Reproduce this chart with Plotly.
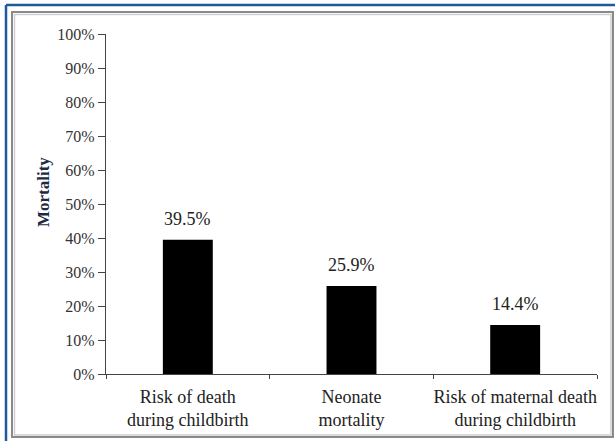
import plotly.graph_objects as go

# Data
categories = ["Risk of death<br>during childbirth", "Neonate<br>mortality",
              "Risk of maternal death<br>during childbirth"]
mortality = [39.5, 25.9, 14.4]
tick_values = [0, 10, 20, 30, 40, 50, 60, 70, 80, 90, 100]
tick_labels = [f"{v}%" for v in tick_values]
y_title = "Mortality"

W, H = 615, 441
L, R, T, B = 106, 18, 34, 67
PW, PH = W - L - R, H - T - B


def px(x):
    return (x - L) / PW


def py(y):
    return (H - B - y) / PH


SERIF = "Liberation Serif, Times New Roman, serif"

fig = go.Figure()
fig.add_trace(go.Bar(
    x=categories, y=mortality, width=0.305,
    marker=dict(color="black", line=dict(color="black", width=0)),
    hoverinfo="skip",
))

# value labels above bars
for c, v in zip(categories, mortality):
    fig.add_annotation(x=c, y=v, text=f"{v}%", showarrow=False,
                       yanchor="bottom", yshift=9,
                       font=dict(family=SERIF, size=18, color="#222"))

# vertical axis title
fig.add_annotation(xref="paper", yref="paper", x=px(43), y=py(192),
                   text=f"<b>{y_title}</b>", textangle=-90, showarrow=False,
                   xanchor="center", yanchor="middle",
                   font=dict(family=SERIF, size=17, color="#1c2a44"))

shapes = [
    # outer frame (gray, double line)
    dict(type="rect", xref="paper", yref="paper",
         x0=px(12), x1=px(613), y0=py(437), y1=py(12),
         line=dict(color="#8a8a8a", width=2)),
    dict(type="rect", xref="paper", yref="paper",
         x0=px(14.5), x1=px(611), y0=py(435), y1=py(14.5),
         line=dict(color="#d0d0d0", width=1.5)),
    # blue border top and left
    dict(type="line", xref="paper", yref="paper",
         x0=px(6), x1=px(W), y0=py(5), y1=py(5),
         line=dict(color="#1f5a9a", width=2.5)),
    dict(type="line", xref="paper", yref="paper",
         x0=px(6), x1=px(6), y0=py(5), y1=py(H),
         line=dict(color="#1f5a9a", width=2.5)),
]

fig.update_layout(
    width=W, height=H,
    margin=dict(l=L, r=R, t=T, b=B, autoexpand=False),
    paper_bgcolor="white", plot_bgcolor="white",
    showlegend=False,
    bargap=0.6,
    shapes=shapes,
    font=dict(family=SERIF, color="#222"),
)
fig.update_xaxes(
    type="category", showline=True, linecolor="#444", linewidth=1.2,
    ticks="outside", tickson="boundaries", ticklen=4, tickcolor="#444",
    tickangle=0, automargin=False, ticklabelstandoff=6,
    tickfont=dict(family=SERIF, size=18, color="#222"),
    showgrid=False, zeroline=False, fixedrange=True,
)
fig.update_yaxes(
    range=[0, 100], tickvals=tick_values, ticktext=tick_labels,
    showline=True, linecolor="#444", linewidth=1.2,
    ticks="outside", ticklen=7, tickcolor="#444", automargin=False,
    tickfont=dict(family=SERIF, size=16, color="#333"),
    showgrid=False, zeroline=False, fixedrange=True,
)

fig.write_html("out.html")
